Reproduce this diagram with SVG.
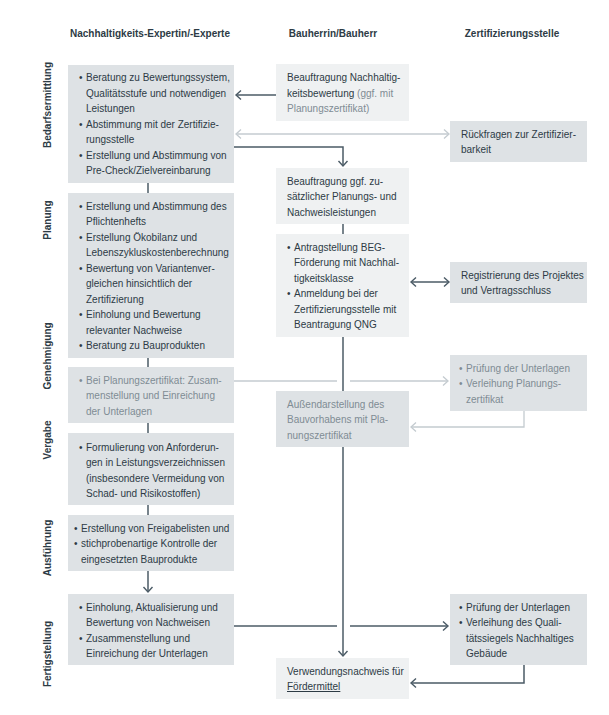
<svg xmlns="http://www.w3.org/2000/svg" width="609" height="715" viewBox="0 0 609 715">
<style>
text{font-family:"Liberation Sans",Arial,sans-serif;font-size:10px;fill:#2d3b45}
.h{font-weight:bold;font-size:10px}
.ph{font-weight:bold;font-size:10px}
.g{fill:#7f8c94}
.bx{fill:#dee2e5}
.lt{fill:#eff1f2}
.dk{stroke:#4b5b66;stroke-width:1.5;fill:none}
.li{stroke:#c4cbd0;stroke-width:1.3;fill:none}
</style>
<defs>
<marker id="ad" viewBox="-7 -6 9 12" refX="0" refY="0" markerWidth="9" markerHeight="12" markerUnits="userSpaceOnUse" orient="auto-start-reverse">
<path d="M-5,-4.5 L0,0 L-5,4.5" fill="none" stroke="#4b5b66" stroke-width="1.4"/>
</marker>
<marker id="al" viewBox="-7 -6 9 12" refX="0" refY="0" markerWidth="9" markerHeight="12" markerUnits="userSpaceOnUse" orient="auto-start-reverse">
<path d="M-5,-4.5 L0,0 L-5,4.5" fill="none" stroke="#c4cbd0" stroke-width="1.3"/>
</marker>
</defs>
<rect width="609" height="715" fill="#ffffff"/>

<g id="headers">
<text class="h" x="150" y="37" text-anchor="middle">Nachhaltigkeits-Expertin/-Experte</text>
<text class="h" x="333" y="37" text-anchor="middle">Bauherrin/Bauherr</text>
<text class="h" x="512" y="37" text-anchor="middle">Zertifizierungsstelle</text>
</g>

<g id="phases">
<text class="ph" transform="translate(51,105) rotate(-90)" text-anchor="middle">Bedarfsermittlung</text>
<text class="ph" transform="translate(51,220) rotate(-90)" text-anchor="middle">Planung</text>
<text class="ph" transform="translate(51,356) rotate(-90)" text-anchor="middle">Genehmigung</text>
<text class="ph" transform="translate(51,440) rotate(-90)" text-anchor="middle">Vergabe</text>
<text class="ph" transform="translate(51,548) rotate(-90)" text-anchor="middle">Ausführung</text>
<text class="ph" transform="translate(51,654) rotate(-90)" text-anchor="middle">Fertigstellung</text>
</g>

<g id="connectors">
<line class="dk" x1="276" y1="95" x2="236" y2="95" marker-end="url(#ad)"/>
<line class="li" x1="236" y1="134" x2="449" y2="134" marker-start="url(#al)" marker-end="url(#al)"/>
<polyline class="dk" points="234,147 343,147 343,166" marker-end="url(#ad)"/>
<line class="dk" x1="343" y1="224" x2="343" y2="234"/>
<line class="dk" x1="411" y1="282" x2="449" y2="282" marker-start="url(#ad)" marker-end="url(#ad)"/>
<line class="dk" x1="343" y1="337" x2="343" y2="391"/>
<line class="dk" x1="343" y1="447" x2="343" y2="656" marker-end="url(#ad)"/>
<line class="li" x1="234" y1="381" x2="337" y2="381"/>
<line class="li" x1="350" y1="381" x2="448" y2="381" marker-end="url(#al)"/>
<polyline class="li" points="524,411 524,427 411,427" marker-end="url(#al)"/>
<line class="dk" x1="148" y1="183" x2="148" y2="193"/>
<line class="dk" x1="148" y1="358" x2="148" y2="367"/>
<line class="dk" x1="148" y1="423" x2="148" y2="433"/>
<line class="dk" x1="148" y1="505" x2="148" y2="515"/>
<line class="dk" x1="148" y1="571" x2="148" y2="592" marker-end="url(#ad)"/>
<line class="dk" x1="234" y1="626" x2="337" y2="626"/>
<line class="dk" x1="350" y1="626" x2="448" y2="626" marker-end="url(#ad)"/>
<polyline class="dk" points="524,665 524,683 411,683" marker-end="url(#ad)"/>
</g>

<g id="n-l1">
<rect class="bx" x="68" y="65" width="166" height="118"/>
<text><tspan x="79" y="81">•</tspan><tspan x="86" y="81">Beratung zu Bewertungssystem,</tspan><tspan x="86" y="96.5">Qualitätsstufe und notwendigen</tspan><tspan x="86" y="112">Leistungen</tspan><tspan x="79" y="127.5">•</tspan><tspan x="86" y="127.5">Abstimmung mit der Zertifizie-</tspan><tspan x="86" y="143">rungsstelle</tspan><tspan x="79" y="158.5">•</tspan><tspan x="86" y="158.5">Erstellung und Abstimmung von</tspan><tspan x="86" y="174">Pre-Check/Zielvereinbarung</tspan></text>
</g>

<g id="n-l2">
<rect class="bx" x="68" y="193" width="166" height="165"/>
<text><tspan x="79" y="209.5">•</tspan><tspan x="86" y="209.5">Erstellung und Abstimmung des</tspan><tspan x="86" y="225">Pflichtenhefts</tspan><tspan x="79" y="240.5">•</tspan><tspan x="86" y="240.5">Erstellung Ökobilanz und</tspan><tspan x="86" y="256">Lebenszykluskostenberechnung</tspan><tspan x="79" y="271.5">•</tspan><tspan x="86" y="271.5">Bewertung von Variantenver-</tspan><tspan x="86" y="287">gleichen hinsichtlich der</tspan><tspan x="86" y="302.5">Zertifizierung</tspan><tspan x="79" y="318">•</tspan><tspan x="86" y="318">Einholung und Bewertung</tspan><tspan x="86" y="333.5">relevanter Nachweise</tspan><tspan x="79" y="349">•</tspan><tspan x="86" y="349">Beratung zu Bauprodukten</tspan></text>
</g>

<g id="n-l3">
<rect class="bx" x="68" y="367" width="166" height="56"/>
<text class="g"><tspan x="79" y="383.5">•</tspan><tspan x="86" y="383.5">Bei Planungszertifikat: Zusam-</tspan><tspan x="86" y="399">menstellung und Einreichung</tspan><tspan x="86" y="414.5">der Unterlagen</tspan></text>
</g>

<g id="n-l4">
<rect class="bx" x="68" y="433" width="166" height="72"/>
<text><tspan x="79" y="450.5">•</tspan><tspan x="86" y="450.5">Formulierung von Anforderun-</tspan><tspan x="86" y="466">gen in Leistungsverzeichnissen</tspan><tspan x="86" y="481.5">(insbesondere Vermeidung von</tspan><tspan x="86" y="497">Schad- und Risikostoffen)</tspan></text>
</g>

<g id="n-l5">
<rect class="bx" x="68" y="515" width="166" height="56"/>
<text><tspan x="74" y="531.5">•</tspan><tspan x="81" y="531.5">Erstellung von Freigabelisten und</tspan><tspan x="74" y="547">•</tspan><tspan x="81" y="547">stichprobenartige Kontrolle der</tspan><tspan x="81" y="562.5">eingesetzten Bauprodukte</tspan></text>
</g>

<g id="n-l6">
<rect class="bx" x="68" y="594" width="166" height="71"/>
<text><tspan x="79" y="610.5">•</tspan><tspan x="86" y="610.5">Einholung, Aktualisierung und</tspan><tspan x="86" y="626">Bewertung von Nachweisen</tspan><tspan x="79" y="641.5">•</tspan><tspan x="86" y="641.5">Zusammenstellung und</tspan><tspan x="86" y="657">Einreichung der Unterlagen</tspan></text>
</g>

<g id="n-m1">
<rect class="lt" x="276" y="64" width="133" height="57"/>
<text><tspan x="287" y="81">Beauftragung Nachhaltig-</tspan><tspan x="287" y="96.5">keitsbewertung <tspan class="g">(ggf. mit</tspan></tspan><tspan class="g" x="287" y="112">Planungszertifikat)</tspan></text>
</g>

<g id="n-m2">
<rect class="lt" x="276" y="168" width="133" height="56"/>
<text><tspan x="287" y="184.5">Beauftragung ggf. zu-</tspan><tspan x="287" y="200">sätzlicher Planungs- und</tspan><tspan x="287" y="215.5">Nachweisleistungen</tspan></text>
</g>

<g id="n-m3">
<rect class="lt" x="276" y="234" width="133" height="103"/>
<text><tspan x="287" y="250.5">•</tspan><tspan x="294" y="250.5">Antragstellung BEG-</tspan><tspan x="294" y="266">Förderung mit Nachhal-</tspan><tspan x="294" y="281.5">tigkeitsklasse</tspan><tspan x="287" y="297">•</tspan><tspan x="294" y="297">Anmeldung bei der</tspan><tspan x="294" y="312.5">Zertifizierungsstelle mit</tspan><tspan x="294" y="328">Beantragung QNG</tspan></text>
</g>

<g id="n-m4">
<rect class="bx" x="276" y="391" width="133" height="56"/>
<text class="g"><tspan x="287" y="407.5">Außendarstellung des</tspan><tspan x="287" y="423">Bauvorhabens mit Pla-</tspan><tspan x="287" y="438.5">nungszertifikat</tspan></text>
</g>

<g id="n-m5">
<rect class="lt" x="276" y="658" width="133" height="41"/>
<text><tspan x="287" y="674.5">Verwendungsnachweis für</tspan><tspan x="287" y="690" text-decoration="underline">Fördermittel</tspan></text>
</g>

<g id="n-r1">
<rect class="bx" x="450" y="121" width="137" height="41"/>
<text><tspan x="461" y="137.5">Rückfragen zur Zertifizier-</tspan><tspan x="461" y="153">barkeit</tspan></text>
</g>

<g id="n-r2">
<rect class="bx" x="450" y="262" width="137" height="41"/>
<text><tspan x="461" y="278.5">Registrierung des Projektes</tspan><tspan x="461" y="294">und Vertragsschluss</tspan></text>
</g>

<g id="n-r3">
<rect class="bx" x="450" y="355" width="137" height="56"/>
<text class="g"><tspan x="459" y="371.5">•</tspan><tspan x="466" y="371.5">Prüfung der Unterlagen</tspan><tspan x="459" y="387">•</tspan><tspan x="466" y="387">Verleihung Planungs-</tspan><tspan x="466" y="402.5">zertifikat</tspan></text>
</g>

<g id="n-r4">
<rect class="bx" x="450" y="594" width="137" height="71"/>
<text><tspan x="459" y="610.5">•</tspan><tspan x="466" y="610.5">Prüfung der Unterlagen</tspan><tspan x="459" y="626">•</tspan><tspan x="466" y="626">Verleihung des Quali-</tspan><tspan x="466" y="641.5">tätssiegels Nachhaltiges</tspan><tspan x="466" y="657">Gebäude</tspan></text>
</g>
</svg>
